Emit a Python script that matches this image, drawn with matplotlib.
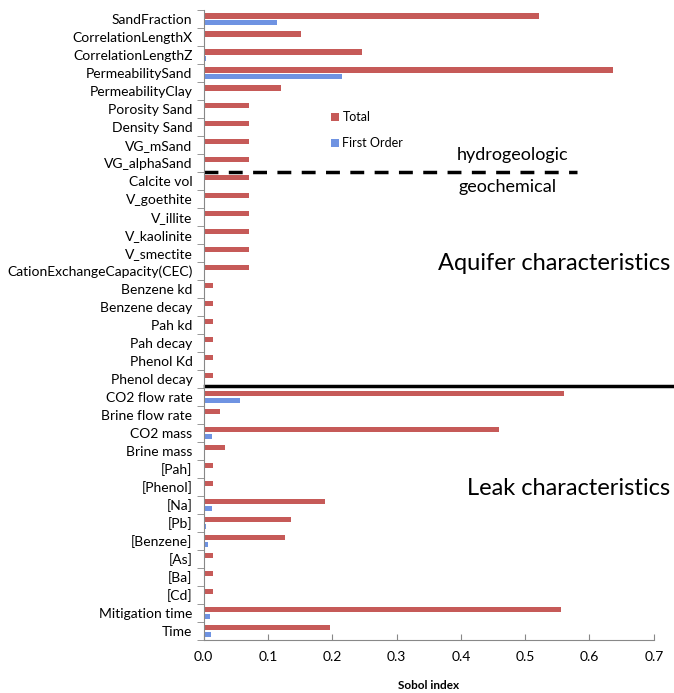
import matplotlib.pyplot as plt
import numpy as np

plt.rcParams["font.family"] = ["Lato", "DejaVu Sans"]

params = [
    "SandFraction", "CorrelationLengthX", "CorrelationLengthZ", "PermeabilitySand",
    "PermeabilityClay", "Porosity Sand", "Density Sand", "VG_mSand", "VG_alphaSand",
    "Calcite vol", "V_goethite", "V_illite", "V_kaolinite", "V_smectite",
    "CationExchangeCapacity(CEC)", "Benzene kd", "Benzene decay", "Pah kd",
    "Pah decay", "Phenol Kd", "Phenol decay", "CO2 flow rate", "Brine flow rate",
    "CO2 mass", "Brine mass", "[Pah]", "[Phenol]", "[Na]", "[Pb]", "[Benzene]",
    "[As]", "[Ba]", "[Cd]", "Mitigation time", "Time",
]
total = [
    0.522, 0.151, 0.246, 0.637, 0.120, 0.070, 0.070, 0.070, 0.070,
    0.070, 0.070, 0.070, 0.070, 0.070, 0.070, 0.014, 0.014, 0.014,
    0.014, 0.014, 0.014, 0.560, 0.025, 0.459, 0.033, 0.014, 0.014,
    0.189, 0.136, 0.127, 0.014, 0.014, 0.014, 0.556, 0.196,
]
first_order = [
    0.114, 0.002, 0.004, 0.215, 0.002, 0.001, 0.001, 0.001, 0.001,
    0.001, 0.001, 0.001, 0.001, 0.001, 0.001, 0.001, 0.001, 0.001,
    0.001, 0.001, 0.002, 0.056, 0.002, 0.013, 0.002, 0.002, 0.002,
    0.013, 0.004, 0.007, 0.002, 0.002, 0.002, 0.010, 0.012,
]
xticks = [0.0, 0.1, 0.2, 0.3, 0.4, 0.5, 0.6, 0.7]

red = "#c65a58"
blue = "#6f93e2"

fig = plt.figure(figsize=(6.74, 6.93), dpi=100)
ax = fig.add_axes([0.302, 0.0765, 0.668, 0.909])

y = np.arange(len(params))
h = 0.28
ax.barh(y - 0.17, total, height=h, color=red, label="Total")
ax.barh(y + 0.17, first_order, height=h, color=blue, label="First Order")

ax.set_ylim(len(params) - 0.5, -0.5)
ax.set_xlim(0, 0.7)
ax.set_yticks(y)
ax.set_yticklabels(params, fontsize=10)
ax.set_yticks(np.arange(len(params) + 1) - 0.5, minor=True)
ax.tick_params(axis="y", which="major", length=0, pad=8)
ax.tick_params(axis="y", which="minor", length=5, color="#888888", direction="out")
ax.set_xticks(xticks)
ax.set_xticklabels(["%.1f" % t for t in xticks], fontsize=10)
ax.tick_params(axis="x", length=4, color="#888888", direction="in", pad=8)

for s in ["top", "right"]:
    ax.spines[s].set_visible(False)
for s in ["left", "bottom"]:
    ax.spines[s].set_color("#888888")

ax.set_xlabel("Sobol index", fontsize=8.5, fontweight="bold", labelpad=12)

# group separators
ax.plot([0, 0.581], [8.5, 8.5], color="black", lw=2.5, ls=(0, (4, 3)), clip_on=False)
ax.plot([0.003, 0.735], [20.37, 20.37], color="black", lw=2.5, clip_on=False)

ax.text(0.480, 7.56, "hydrogeologic", fontsize=13, ha="center", va="center")
ax.text(0.473, 9.33, "geochemical", fontsize=13, ha="center", va="center")
ax.text(0.725, 13.56, "Aquifer characteristics", fontsize=17, ha="right", va="center", clip_on=False)
ax.text(0.725, 26.06, "Leak characteristics", fontsize=17, ha="right", va="center", clip_on=False)

ax.legend(loc="upper left", bbox_to_anchor=(0.257, 0.857), frameon=False,
          fontsize=9, handlelength=0.65, handleheight=0.65, labelspacing=1.1,
          handletextpad=0.3)

plt.savefig("out.png", dpi=100)
